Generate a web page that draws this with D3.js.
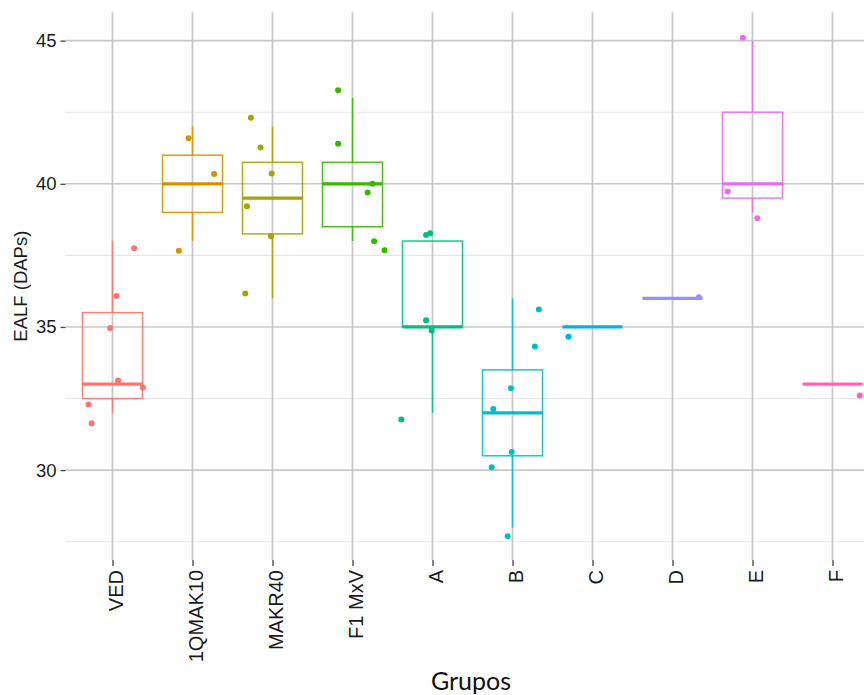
<!DOCTYPE html>
<html>
<head>
<meta charset="utf-8">
<script src="https://cdn.jsdelivr.net/npm/d3@7"></script>
<style>
  html, body { margin: 0; padding: 0; background: #fff; overflow: hidden; }
  svg { display: block; }
</style>
</head>
<body>
<svg id="chart" width="864" height="695"></svg>
<script>
// ---- data ----
const groups = ["VED", "1QMAK10", "MAKR40", "F1 MxV", "A", "B", "C", "D", "E", "F"];
const colors = ["#F8766D", "#D89000", "#A3A500", "#39B600", "#00BF7D", "#00BFC4", "#00B0F6", "#9590FF", "#E76BF3", "#FF62BC"];
// box statistics per group: [lower whisker, Q1, median, Q3, upper whisker]
const whiskerLow  = [32, 38, 36, 38, 32, 28, 35, 36, 39, 33];
const q1          = [32.5, 39, 38.25, 38.5, 35, 30.5, 35, 36, 39.5, 33];
const medians     = [33, 40, 39.5, 40, 35, 32, 35, 36, 40, 33];
const q3          = [35.5, 41, 40.75, 40.75, 38, 33.5, 35, 36, 42.5, 33];
const whiskerHigh = [38, 42, 42, 43, 38, 36, 35, 36, 45, 33];
// jittered observations: group, value, jitter (in category units)
const pointGroup  = ["VED","VED","VED","VED","VED","VED","VED",
                     "1QMAK10","1QMAK10","1QMAK10",
                     "MAKR40","MAKR40","MAKR40","MAKR40","MAKR40","MAKR40",
                     "F1 MxV","F1 MxV","F1 MxV","F1 MxV","F1 MxV","F1 MxV",
                     "A","A","A","A","A",
                     "B","B","B","B","B","B","B",
                     "C","D","E","E","E","F"];
const pointValue  = [37.75, 36.08, 34.96, 33.13, 32.88, 32.29, 31.64,
                     41.59, 40.34, 37.66,
                     42.31, 41.27, 40.36, 39.22, 38.17, 36.17,
                     43.27, 41.40, 40.0, 39.7, 37.99, 37.68,
                     38.21, 38.27, 35.23, 34.88, 31.77,
                     35.61, 34.32, 32.86, 32.13, 30.63, 30.1, 27.69,
                     34.66, 36.04, 45.1, 39.73, 38.8, 32.61];
const pointJitter = [0.27, 0.05, -0.03, 0.07, 0.38, -0.30, -0.26,
                     -0.05, 0.27, -0.17,
                     -0.27, -0.15, -0.01, -0.32, -0.02, -0.34,
                     -0.18, -0.18, 0.25, 0.19, 0.27, 0.40,
                     -0.08, -0.03, -0.08, -0.01, -0.39,
                     0.33, 0.28, -0.02, -0.24, -0.01, -0.26, -0.06,
                     -0.30, 0.33, -0.12, -0.31, 0.06, 0.34];
const yTicks = [30, 35, 40, 45];
const yMinor = [27.5, 32.5, 37.5, 42.5];
const yDomain = [26.86, 45.99];
const yTitle = "EALF (DAPs)";
const xTitle = "Grupos";

// ---- layout ----
const panel = { left: 64.5, right: 880.5, top: 12.3, bottom: 560 };
const svg = d3.select("#chart");

const x = d3.scalePoint().domain(groups).range([panel.left, panel.right]).padding(0.6);
const step = x.step();
const y = d3.scaleLinear().domain(yDomain).range([panel.bottom, panel.top]);
const color = d3.scaleOrdinal().domain(groups).range(colors);

const clip = svg.append("defs").append("clipPath").attr("id", "clip")
  .append("rect").attr("x", panel.left).attr("y", panel.top)
  .attr("width", panel.right - panel.left).attr("height", panel.bottom - panel.top);

const grid = svg.append("g");
// minor horizontal
grid.selectAll("line.minor").data(yMinor).join("line")
  .attr("x1", panel.left + 1).attr("x2", panel.right)
  .attr("y1", d => y(d)).attr("y2", d => y(d))
  .attr("stroke", "#e6e6e6").attr("stroke-width", 1.1);
// major horizontal
grid.selectAll("line.major").data(yTicks).join("line")
  .attr("x1", panel.left + 1).attr("x2", panel.right)
  .attr("y1", d => y(d)).attr("y2", d => y(d))
  .attr("stroke", "#c8c8c8").attr("stroke-width", 1.6);
// major vertical
grid.selectAll("line.v").data(groups).join("line")
  .attr("x1", d => x(d)).attr("x2", d => x(d))
  .attr("y1", panel.top).attr("y2", panel.bottom)
  .attr("stroke", "#c8c8c8").attr("stroke-width", 1.8);

// axes via d3
const yAxis = d3.axisLeft(y).tickValues(yTicks).tickSize(5).tickPadding(4);
const yg = svg.append("g").attr("transform", `translate(${panel.left + 1},0)`).call(yAxis);
yg.select(".domain").remove();
yg.selectAll(".tick line").attr("stroke", "#444").attr("stroke-width", 1.3);
yg.selectAll(".tick text").attr("fill", "#1a1a1a")
  .attr("font-family", "'Liberation Sans', Arial, sans-serif").attr("font-size", 18.5);

const xAxis = d3.axisBottom(x).tickSize(6).tickPadding(0);
const xg = svg.append("g").attr("transform", `translate(0,${panel.bottom})`).call(xAxis);
xg.select(".domain").remove();
xg.selectAll(".tick line").attr("stroke", "#444").attr("stroke-width", 1.3);
xg.selectAll(".tick text")
  .attr("fill", "#1a1a1a")
  .attr("font-family", "'Liberation Sans', Arial, sans-serif").attr("font-size", 20)
  .attr("text-anchor", "end")
  .attr("transform", "translate(0,10) rotate(-90)")
  .attr("x", 0).attr("y", 0).attr("dy", "0.52em");

// boxes
const plot = svg.append("g").attr("clip-path", "url(#clip)");
const bw = step * 0.75;
const boxes = plot.selectAll("g.box").data(groups).join("g")
  .attr("stroke", d => color(d)).attr("fill", "none").attr("stroke-opacity", 0.9);
boxes.each(function (g, i) {
  const sel = d3.select(this);
  const cx = x(g);
  if (whiskerHigh[i] > q3[i]) {
    sel.append("line").attr("x1", cx).attr("x2", cx)
      .attr("y1", y(whiskerHigh[i])).attr("y2", y(q3[i])).attr("stroke-width", 1.5);
  }
  if (whiskerLow[i] < q1[i]) {
    sel.append("line").attr("x1", cx).attr("x2", cx)
      .attr("y1", y(q1[i])).attr("y2", y(whiskerLow[i])).attr("stroke-width", 1.5);
  }
  if (q3[i] > q1[i]) {
    sel.append("rect").attr("x", cx - bw / 2).attr("y", y(q3[i]))
      .attr("width", bw).attr("height", y(q1[i]) - y(q3[i])).attr("stroke-width", 1.5);
  }
  sel.append("line").attr("x1", cx - bw / 2).attr("x2", cx + bw / 2)
    .attr("y1", y(medians[i])).attr("y2", y(medians[i])).attr("stroke-width", 3.2)
    .attr("stroke-opacity", 1);
});

// points
const pts = pointValue.map((v, i) => ({ g: pointGroup[i], v, j: pointJitter[i] }));
plot.selectAll("circle.pt").data(pts).join("circle")
  .attr("cx", d => x(d.g) + d.j * step)
  .attr("cy", d => y(d.v))
  .attr("r", 3)
  .attr("fill", d => color(d.g));

// titles
svg.append("text")
  .attr("transform", `translate(27,${(panel.top + panel.bottom) / 2}) rotate(-90)`)
  .attr("text-anchor", "middle")
  .attr("font-family", "'Liberation Sans', Arial, sans-serif").attr("font-size", 18.5)
  .attr("fill", "#1a1a1a")
  .text(yTitle);

svg.append("text")
  .attr("x", 471).attr("y", 690)
  .attr("text-anchor", "middle")
  .attr("font-family", "Lato, 'Open Sans', sans-serif").attr("font-size", 25)
  .attr("fill", "#111")
  .text(xTitle);
</script>
</body>
</html>
